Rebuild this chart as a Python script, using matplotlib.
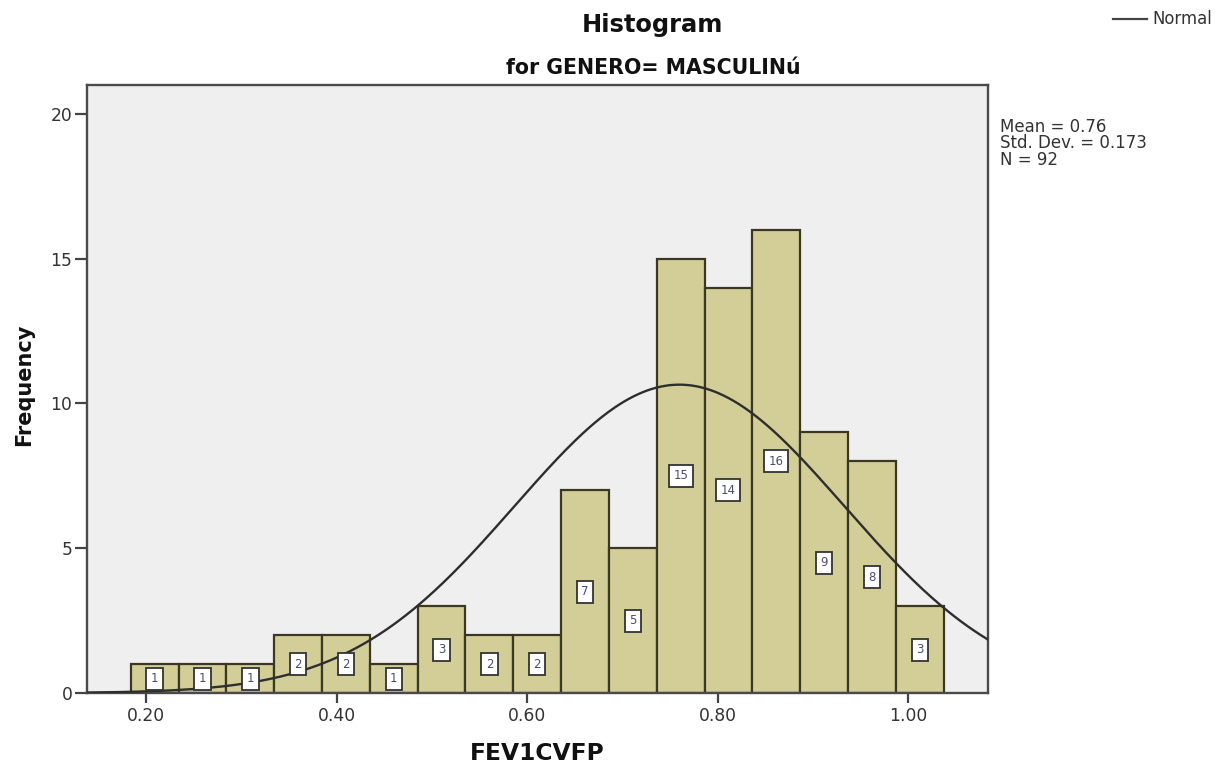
import numpy as np
import matplotlib
matplotlib.use("Agg")
import matplotlib.pyplot as plt

# ---- data ----
counts = [1, 1, 1, 2, 2, 1, 3, 2, 2, 7, 5, 15, 14, 16, 9, 8, 3]
bin_start = 0.184
bin_width = 0.0502
mean_val = 0.76
std_val = 0.173
n_val = 92
xticks = [0.20, 0.40, 0.60, 0.80, 1.00]
xtick_labels = ["0.20", "0.40", "0.60", "0.80", "1.00"]
yticks = [0, 5, 10, 15, 20]
title = "Histogram"
subtitle = "for GENERO= MASCULINú"
xlabel = "FEV1CVFP"
ylabel = "Frequency"
stats_lines = ["Mean = 0.76", "Std. Dev. = 0.173", "N = 92"]

W, H = 1219, 765
fig = plt.figure(figsize=(W / 100, H / 100), dpi=100)
fig.patch.set_facecolor("white")
ax = fig.add_axes([87 / W, 1 - 693 / H, (988 - 87) / W, (693 - 85) / H])
ax.set_facecolor("#EFEFEF")

edges = bin_start + bin_width * np.arange(len(counts) + 1)
lefts = edges[:-1]
ax.bar(lefts, counts, width=bin_width, align="edge", color="#D3CE97",
       edgecolor="#3a3822", linewidth=1.6, zorder=2)

ax.set_xlim(0.138, 1.084)
ax.set_ylim(0, 21.0)

# normal curve
xs = np.linspace(0.138, 1.084, 400)
ys = n_val * bin_width * np.exp(-0.5 * ((xs - mean_val) / std_val) ** 2) / (std_val * np.sqrt(2 * np.pi))
ax.plot(xs, ys, color="#2e2e2e", linewidth=1.7, zorder=3)

# bar labels
for l, c in zip(lefts, counts):
    ax.text(l + bin_width / 2, c / 2, str(c), ha="center", va="center",
            fontsize=8.5, color="#4a4a78", zorder=4,
            bbox=dict(boxstyle="square,pad=0.38", facecolor="white",
                      edgecolor="#333333", linewidth=1.3))

ax.set_xticks(xticks)
ax.set_xticklabels(xtick_labels)
ax.set_yticks(yticks)
ax.tick_params(axis="x", length=7, width=1.6, color="#444444", labelsize=12.3,
               labelcolor="#333333", pad=3)
ax.tick_params(axis="y", length=9, width=1.6, color="#444444", labelsize=12.3,
               labelcolor="#333333", pad=1.5)
for s in ax.spines.values():
    s.set_color("#4a4a4a")
    s.set_linewidth(1.7)

# titles and labels
fig.text(652 / W, 1 - 32 / H, title, ha="center", va="baseline",
         fontsize=17.4, fontweight="bold", color="#111111")
fig.text(653 / W, 1 - 74 / H, subtitle, ha="center", va="baseline",
         fontsize=14.8, fontweight="bold", color="#111111")
fig.text(537 / W, 1 - 760 / H, xlabel, ha="center", va="baseline",
         fontsize=16.8, fontweight="bold", color="#111111")
fig.text(24 / W, 1 - 385 / H, ylabel, ha="center", va="center", rotation=90,
         fontsize=15, fontweight="bold", color="#111111")

# stats
for i, (line, yb) in enumerate(zip(stats_lines, [132, 148.5, 165])):
    fig.text(1000 / W, 1 - yb / H, line, ha="left", va="baseline",
             fontsize=12, color="#333333")

# legend
fig.add_artist(plt.Line2D([1113 / W, 1147 / W], [1 - 19 / H, 1 - 19 / H],
                          color="#444444", linewidth=1.6, transform=fig.transFigure))
fig.text(1152 / W, 1 - 19.5 / H, "Normal", ha="left", va="center",
         fontsize=11.9, color="#333333")

fig.savefig("out.png", dpi=100)
